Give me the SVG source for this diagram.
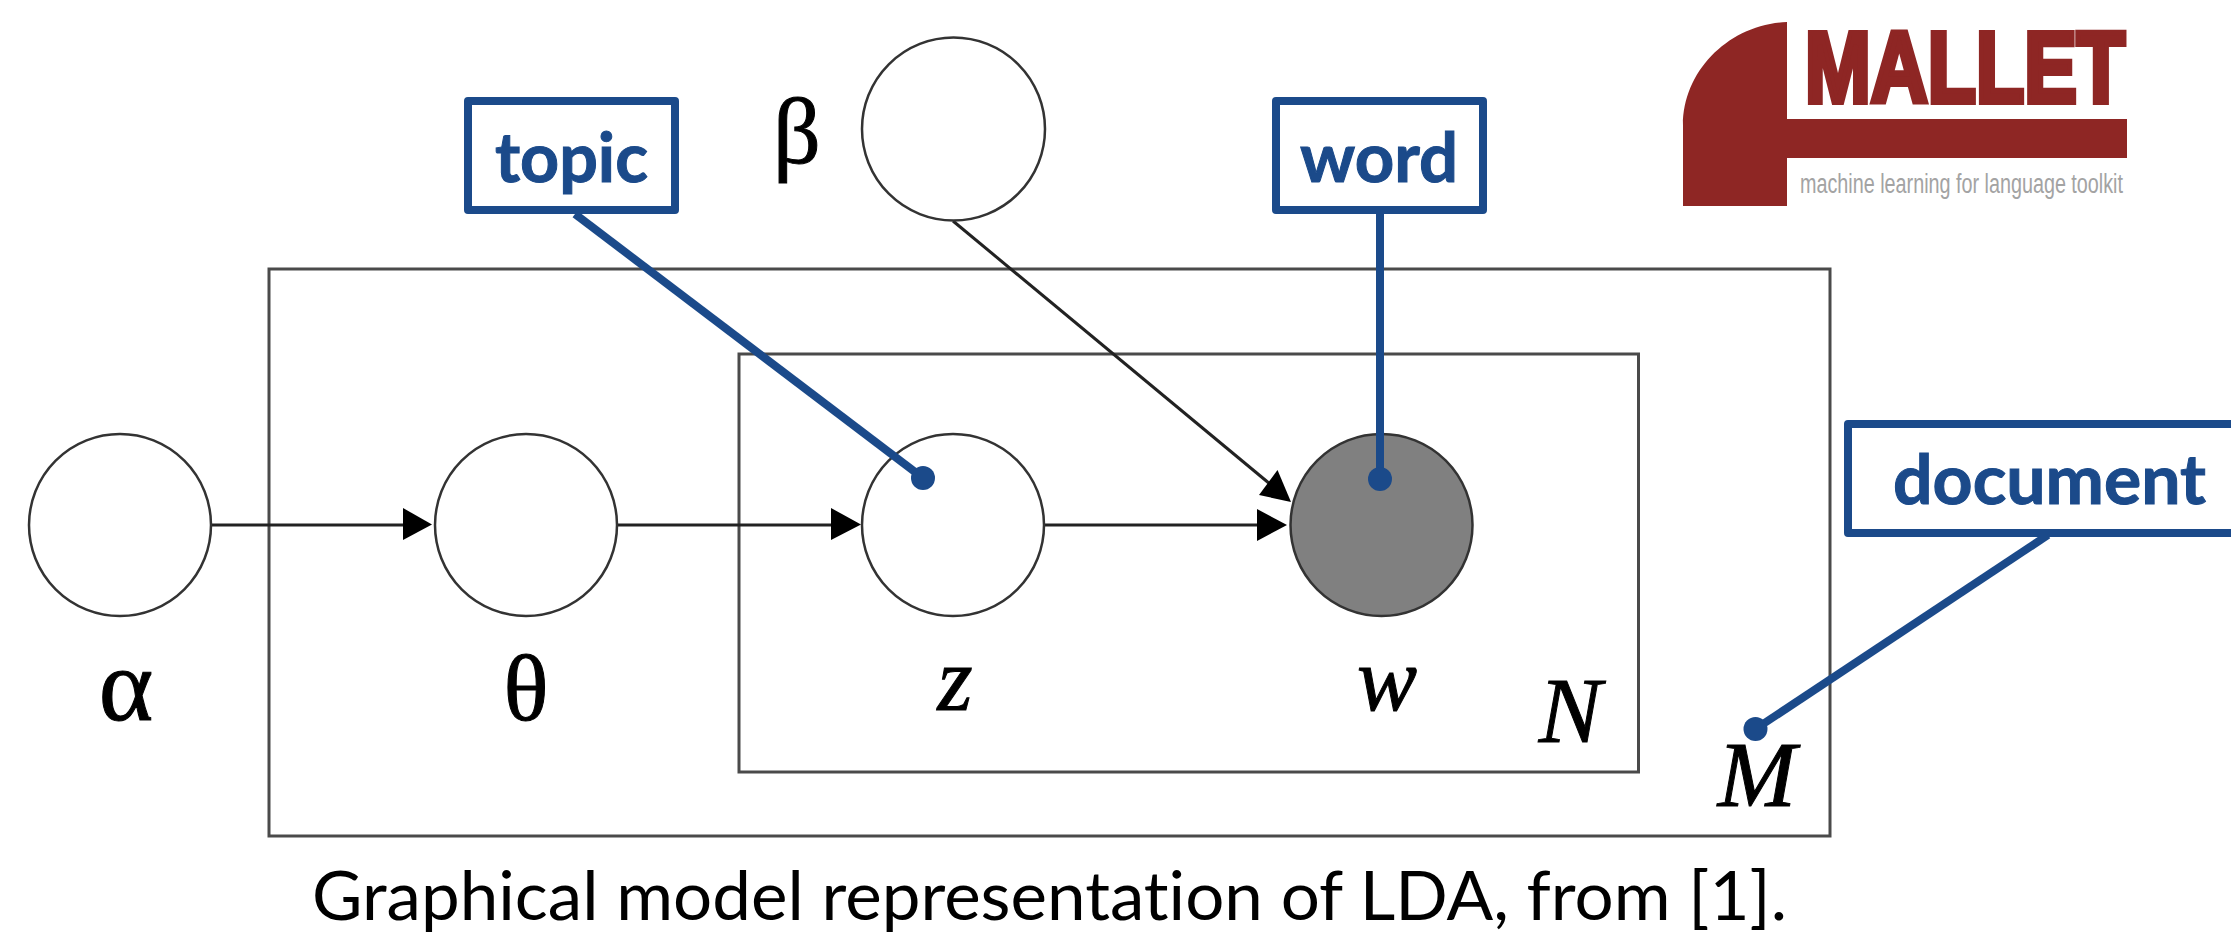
<svg xmlns="http://www.w3.org/2000/svg" width="2231" height="935" viewBox="0 0 2231 935">
<style>
.plate{fill:none;stroke:#4a4a4a;stroke-width:3}
.node{fill:#fff;stroke:#333;stroke-width:2.5}
.edge{fill:none;stroke:#222;stroke-width:3}
.head{fill:#000}
.sym{font-family:"Liberation Serif",serif;font-size:94px;fill:#000;stroke:#000;stroke-width:1}
.it{font-style:italic}
.box{fill:#fff;stroke:#1b4a8a;stroke-width:8;stroke-linejoin:round}
.lead{fill:none;stroke:#1b4a8a;stroke-width:8}
.dot{fill:#1b4a8a}
.tag{font-family:"Lato",sans-serif;font-weight:700;font-size:68px;fill:#1b4a8a;stroke:#1b4a8a;stroke-width:1}
</style>
<rect width="2231" height="935" fill="#fff"/>
<g id="plates">
<rect id="plate-M" class="plate" x="269" y="269" width="1561" height="567"/>
<rect id="plate-N" class="plate" x="739" y="354" width="899.5" height="418"/>
</g>
<g id="connectors">
<path class="edge" d="M211 525H405"/><polygon class="head" points="432,524.5 403,508 403,540"/>
<path class="edge" d="M617 525H833"/><polygon class="head" points="861,524.5 831,508 831,540"/>
<path class="edge" d="M1045 525H1259"/><polygon class="head" points="1287,525 1257,509 1257,541"/>
<path class="edge" d="M953 221L1270 484"/><polygon class="head" points="1291,502 1277.5,470 1259,495"/>
</g>
<g id="node-alpha"><circle class="node" cx="120" cy="525" r="91"/><text class="sym" x="126" y="720" text-anchor="middle" style="font-size:104px">α</text></g>
<g id="node-theta"><circle class="node" cx="526" cy="525" r="91"/><text class="sym" x="526" y="720" text-anchor="middle">θ</text></g>
<g id="node-beta"><circle class="node" cx="953.5" cy="129" r="91.5"/><text class="sym" x="797" y="163" text-anchor="middle">β</text></g>
<g id="node-z"><circle class="node" cx="953" cy="525" r="91"/><text class="sym it" x="955" y="710" text-anchor="middle" style="font-size:90px">z</text></g>
<g id="node-w"><circle class="node" style="fill:#808080" cx="1381.5" cy="525" r="91"/><text class="sym it" x="1387" y="710" text-anchor="middle" style="font-size:90px">w</text></g>
<g id="label-N"><text class="sym it" x="1570" y="742" text-anchor="middle">N</text></g>
<g id="label-M"><text class="sym it" x="1757" y="806" text-anchor="middle">M</text></g>
<g id="callout-topic">
<path class="lead" d="M575 214L923 478"/><circle class="dot" cx="923" cy="478" r="12"/>
<rect class="box" x="468" y="101" width="207" height="109"/>
<text class="tag" x="495" y="182" textLength="153" lengthAdjust="spacingAndGlyphs">topic</text>
</g>
<g id="callout-word">
<path class="lead" d="M1380 214V479"/><circle class="dot" cx="1380" cy="479" r="12"/>
<rect class="box" x="1276" y="101" width="207" height="109"/>
<text class="tag" x="1300" y="182" textLength="158" lengthAdjust="spacingAndGlyphs">word</text>
</g>
<g id="callout-document">
<path class="lead" d="M2048 535L1755.5 729"/><circle class="dot" cx="1755.5" cy="729" r="12"/>
<rect class="box" x="1848" y="424" width="420" height="109"/>
<text class="tag" x="1893" y="504" textLength="313" lengthAdjust="spacingAndGlyphs">document</text>
</g>
<g id="logo">
<path fill="#8e2624" d="M1787 22C1730 24 1683 70 1683 125V206H1787V158H2127V119H1787Z"/>
<text x="1805" y="102" textLength="320" lengthAdjust="spacingAndGlyphs" font-family="Liberation Sans,sans-serif" font-weight="700" font-size="100" fill="#8e2624" stroke="#8e2624" stroke-width="6">MALLET</text>
<text x="1800" y="193" textLength="323" lengthAdjust="spacingAndGlyphs" font-family="Liberation Sans,sans-serif" font-size="27" fill="#a3a3a3">machine learning for language toolkit</text>
</g>
<text id="caption" x="312" y="920" textLength="1475" lengthAdjust="spacingAndGlyphs" font-family="Lato,sans-serif" font-size="67" fill="#000" style="font-variant-ligatures:none">Graphical model representation of LDA, from [1].</text>
</svg>
